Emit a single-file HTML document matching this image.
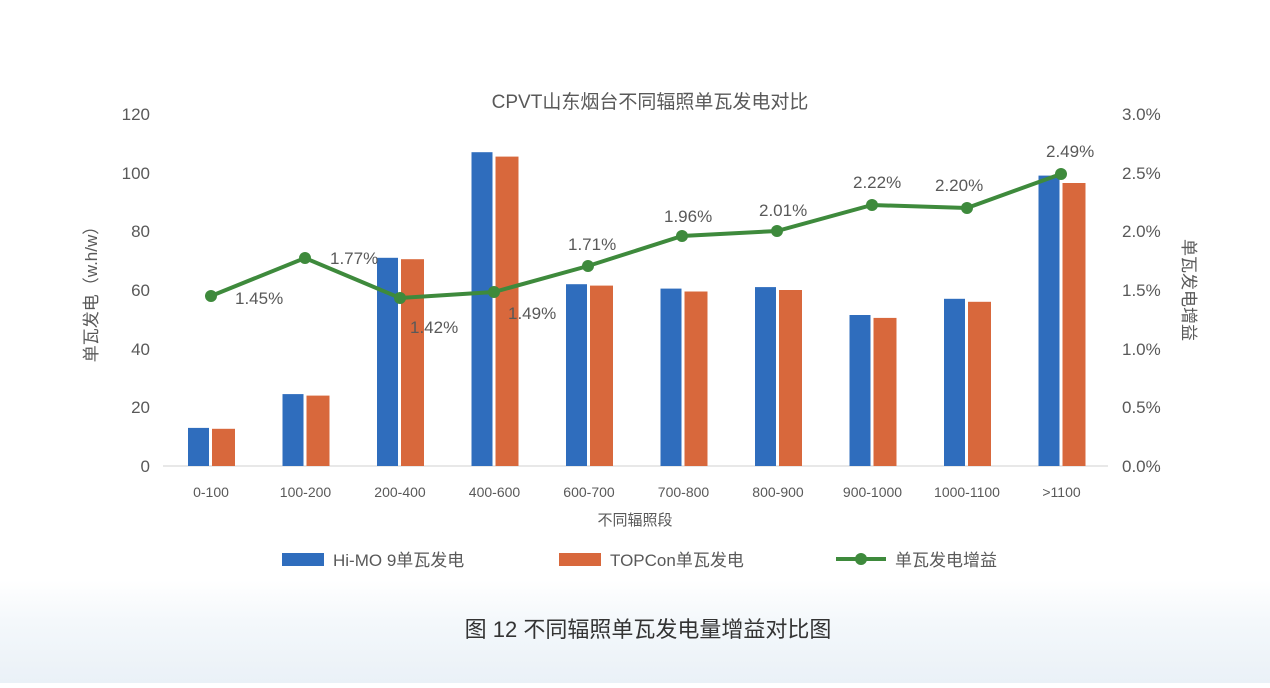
<!DOCTYPE html>
<html><head><meta charset="utf-8"><style>
html,body{margin:0;padding:0;}
body{width:1270px;height:683px;overflow:hidden;background:#fff;font-family:"Liberation Sans","Noto Sans CJK SC",sans-serif;}
</style></head><body>
<svg width="1270" height="683" viewBox="0 0 1270 683" xmlns="http://www.w3.org/2000/svg" style="font-family:'Liberation Sans','Noto Sans CJK SC',sans-serif">
<defs>
<linearGradient id="bg" x1="0" y1="0" x2="0" y2="1">
<stop offset="0" stop-color="#ffffff"/>
<stop offset="0.4" stop-color="#f4f8fb"/>
<stop offset="1" stop-color="#eaf1f7"/>
</linearGradient>
</defs>
<rect x="0" y="580" width="1270" height="103" fill="url(#bg)"/>
<text x="650" y="108" font-size="19" fill="#595959" text-anchor="middle">CPVT山东烟台不同辐照单瓦发电对比</text>
<line x1="163" y1="466" x2="1108" y2="466" stroke="#d0d0d0" stroke-width="1"/>
<g font-size="17" fill="#595959" text-anchor="end">
<text x="150" y="120">120</text><text x="150" y="179">100</text><text x="150" y="237">80</text>
<text x="150" y="296">60</text><text x="150" y="355">40</text><text x="150" y="413">20</text><text x="150" y="472">0</text>
</g>
<g font-size="17" fill="#595959" text-anchor="start">
<text x="1122" y="120">3.0%</text><text x="1122" y="179">2.5%</text><text x="1122" y="237">2.0%</text>
<text x="1122" y="296">1.5%</text><text x="1122" y="355">1.0%</text><text x="1122" y="413">0.5%</text><text x="1122" y="472">0.0%</text>
</g>
<text transform="translate(97,290) rotate(-90)" font-size="17" fill="#595959" text-anchor="middle">单瓦发电（w.h/w）</text>
<text transform="translate(1183,290) rotate(90)" font-size="17" fill="#595959" text-anchor="middle">单瓦发电增益</text>
<g fill="#2f6dbd">
<rect x="188" y="427.9" width="21" height="38.1"/>
<rect x="282.5" y="394.1" width="21" height="71.9"/>
<rect x="377" y="257.8" width="21" height="208.2"/>
<rect x="471.5" y="152.2" width="21" height="313.8"/>
<rect x="566" y="284.2" width="21" height="181.8"/>
<rect x="660.5" y="288.6" width="21" height="177.4"/>
<rect x="755" y="287.1" width="21" height="178.9"/>
<rect x="849.5" y="315" width="21" height="151"/>
<rect x="944" y="298.8" width="21" height="167.2"/>
<rect x="1038.5" y="175.6" width="21" height="290.4"/>
</g>
<g fill="#d8683c">
<rect x="212" y="428.8" width="23" height="37.2"/>
<rect x="306.5" y="395.6" width="23" height="70.4"/>
<rect x="401" y="259.2" width="23" height="206.8"/>
<rect x="495.5" y="156.6" width="23" height="309.4"/>
<rect x="590" y="285.6" width="23" height="180.4"/>
<rect x="684.5" y="291.5" width="23" height="174.5"/>
<rect x="779" y="290" width="23" height="176"/>
<rect x="873.5" y="317.9" width="23" height="148.1"/>
<rect x="968" y="301.8" width="23" height="164.2"/>
<rect x="1062.5" y="183" width="23" height="283"/>
</g>
<g font-size="14" fill="#595959" text-anchor="middle">
<text x="211" y="497">0-100</text><text x="305.5" y="497">100-200</text><text x="400" y="497">200-400</text>
<text x="494.5" y="497">400-600</text><text x="589" y="497">600-700</text><text x="683.5" y="497">700-800</text>
<text x="778" y="497">800-900</text><text x="872.5" y="497">900-1000</text><text x="967" y="497">1000-1100</text><text x="1061.5" y="497">&gt;1100</text>
</g>
<polyline points="211,296 305,258 400,298 494,292 588,266 682,236 777,231 872,205 967,208 1061,174" fill="none" stroke="#3e8a3c" stroke-width="4"/>
<g fill="#3e8a3c">
<circle cx="211" cy="296" r="6"/><circle cx="305" cy="258" r="6"/><circle cx="400" cy="298" r="6"/><circle cx="494" cy="292" r="6"/><circle cx="588" cy="266" r="6"/><circle cx="682" cy="236" r="6"/><circle cx="777" cy="231" r="6"/><circle cx="872" cy="205" r="6"/><circle cx="967" cy="208" r="6"/><circle cx="1061" cy="174" r="6"/>
</g>
<g font-size="17" fill="#595959">
<text x="235" y="304">1.45%</text><text x="330" y="264">1.77%</text><text x="410" y="333">1.42%</text>
<text x="508" y="319">1.49%</text><text x="568" y="250">1.71%</text><text x="664" y="222">1.96%</text>
<text x="759" y="216">2.01%</text><text x="853" y="188">2.22%</text><text x="935" y="191">2.20%</text><text x="1046" y="157">2.49%</text>
</g>
<text x="635" y="525" font-size="15" fill="#595959" text-anchor="middle">不同辐照段</text>
<rect x="282" y="553" width="42" height="13" fill="#2f6dbd"/>
<text x="333" y="566" font-size="17" fill="#595959">Hi-MO 9单瓦发电</text>
<rect x="559" y="553" width="42" height="13" fill="#d8683c"/>
<text x="610" y="566" font-size="17" fill="#595959">TOPCon单瓦发电</text>
<line x1="836" y1="559" x2="886" y2="559" stroke="#3e8a3c" stroke-width="4"/>
<circle cx="861" cy="559" r="6" fill="#3e8a3c"/>
<text x="895" y="566" font-size="17" fill="#595959">单瓦发电增益</text>
<text x="648" y="637" font-size="22" fill="#333" text-anchor="middle">图 12 不同辐照单瓦发电量增益对比图</text>
</svg>
</body></html>
